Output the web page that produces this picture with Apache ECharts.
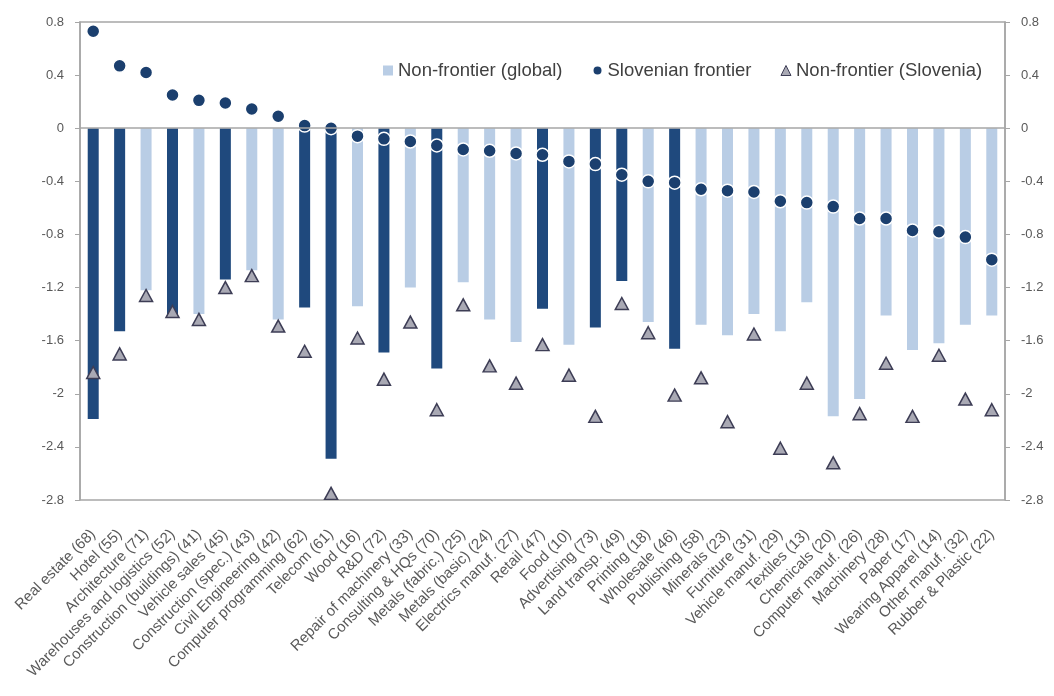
<!DOCTYPE html>
<html>
<head>
<meta charset="utf-8">
<title>Sector gaps: frontier vs non-frontier</title>
<script src="https://cdn.jsdelivr.net/npm/echarts@6/dist/echarts.min.js"></script>
<style>
  html, body { margin: 0; padding: 0; background: #ffffff; }
  #chart { width: 1054px; height: 696px; }
</style>
</head>
<body>
<div id="chart"></div>
<script>
// Sectors (number of firms in brackets)
const categories = [
  'Real estate (68)', 'Hotel (55)', 'Architecture (71)', 'Warehouses and logistics (52)',
  'Construction (buildings) (41)', 'Vehicle sales (45)', 'Construction (spec.) (43)',
  'Civil Engineering (42)', 'Computer programming (62)', 'Telecom (61)', 'Wood (16)',
  'R&D (72)', 'Repair of machinery (33)', 'Consulting & HQs (70)', 'Metals (fabric.) (25)',
  'Metals (basic) (24)', 'Electrics manuf. (27)', 'Retail (47)', 'Food (10)',
  'Advertising (73)', 'Land transp. (49)', 'Printing (18)', 'Wholesale (46)',
  'Publishing (58)', 'Minerals (23)', 'Furniture (31)', 'Vehicle manuf. (29)',
  'Textiles (13)', 'Chemicals (20)', 'Computer manuf. (26)', 'Machinery (28)',
  'Paper (17)', 'Wearing Apparel (14)', 'Other manuf. (32)', 'Rubber & Plastic (22)'
];

// Non-frontier (global) bars
const nonFrontierGlobal = [
  -2.19, -1.53, -1.22, -1.43, -1.40, -1.14, -1.07, -1.44, -1.35, -2.49,
  -1.34, -1.69, -1.20, -1.81, -1.16, -1.44, -1.61, -1.36, -1.63, -1.50,
  -1.15, -1.46, -1.66, -1.48, -1.56, -1.40, -1.53, -1.31, -2.17, -2.04,
  -1.41, -1.67, -1.62, -1.48, -1.41
];

// Sectors whose bar is drawn in the darker shade
const darkBar = [
  1, 1, 0, 1, 0, 1, 0, 0, 1, 1,
  0, 1, 0, 1, 0, 0, 0, 1, 0, 1,
  1, 0, 1, 0, 0, 0, 0, 0, 0, 0,
  0, 0, 0, 0, 0
];

// Slovenian frontier (dots)
const slovenianFrontier = [
  0.73, 0.47, 0.42, 0.25, 0.21, 0.19, 0.145, 0.09, 0.02, 0.0,
  -0.06, -0.08, -0.10, -0.13, -0.16, -0.17, -0.19, -0.20, -0.25, -0.27,
  -0.35, -0.40, -0.41, -0.46, -0.47, -0.48, -0.55, -0.56, -0.59, -0.68,
  -0.68, -0.77, -0.78, -0.82, -0.99
];

// Non-frontier (Slovenia) (triangles)
const nonFrontierSlovenia = [
  -1.84, -1.70, -1.26, -1.38, -1.44, -1.20, -1.11, -1.49, -1.68, -2.75,
  -1.58, -1.89, -1.46, -2.12, -1.33, -1.79, -1.92, -1.63, -1.86, -2.17,
  -1.32, -1.54, -2.01, -1.88, -2.21, -1.55, -2.41, -1.92, -2.52, -2.15,
  -1.77, -2.17, -1.71, -2.04, -2.12
];

// Value axis range and step
const yMin = -2.8;
const yMax = 0.8;
const yStep = 0.4;

const FONT = 'Liberation Sans';
const LIGHT = '#b9cde5';
const DARK = '#1f497d';
const DOT = '#1b3f6e';
const TRI_FILL = '#a9a9b4';
const TRI_EDGE = '#3d3d55';
const AXIS_GREY = '#a6a6a6';
const TEXT_GREY = '#595959';

function valueAxis(position) {
  return {
    type: 'value',
    position: position,
    min: yMin,
    max: yMax,
    interval: yStep,
    axisLine: { show: true, lineStyle: { color: AXIS_GREY, width: 1.5 } },
    axisTick: { show: true, inside: false, length: 5, lineStyle: { color: AXIS_GREY } },
    splitLine: { show: false },
    axisLabel: {
      margin: 16,
      color: TEXT_GREY,
      fontFamily: FONT,
      fontSize: 13
    }
  };
}

const chart = echarts.init(document.getElementById('chart'), null, { renderer: 'canvas' });

chart.setOption({
  animation: false,
  backgroundColor: '#ffffff',
  grid: {
    left: 80,
    right: 49,
    top: 22,
    bottom: 196,
    show: true,
    borderColor: AXIS_GREY,
    borderWidth: 1.5,
    containLabel: false
  },
  legend: {
    left: 378,
    top: 56,
    itemWidth: 10,
    itemHeight: 10,
    itemGap: 29,
    textStyle: { fontFamily: FONT, fontSize: 18.5, color: '#404040' },
    data: [
      { name: 'Non-frontier (global)', icon: 'rect', itemStyle: { color: LIGHT } },
      { name: 'Slovenian frontier', icon: 'circle', itemStyle: { color: DOT } },
      { name: 'Non-frontier (Slovenia)', icon: 'triangle',
        itemStyle: { color: TRI_FILL, borderColor: TRI_EDGE, borderWidth: 1 } }
    ]
  },
  xAxis: {
    type: 'category',
    data: categories,
    position: 'bottom',
    axisLine: { show: false, onZero: false },
    axisTick: { show: false },
    axisLabel: {
      interval: 0,
      rotate: 45,
      margin: 32,
      color: TEXT_GREY,
      fontFamily: FONT,
      fontSize: 15
    }
  },
  yAxis: [valueAxis('left'), valueAxis('right')],
  series: [
    {
      name: 'Non-frontier (global)',
      type: 'bar',
      data: nonFrontierGlobal,
      barWidth: 11,
      itemStyle: {
        color: function (p) { return darkBar[p.dataIndex] ? DARK : LIGHT; }
      },
      markLine: {
        silent: true,
        symbol: ['none', 'none'],
        label: { show: false },
        lineStyle: { color: AXIS_GREY, width: 1.5, type: 'solid' },
        data: [{ yAxis: 0 }]
      },
      z: 2
    },
    {
      name: 'Slovenian frontier',
      type: 'scatter',
      data: slovenianFrontier,
      symbol: 'circle',
      symbolSize: 13,
      itemStyle: { color: DOT, borderColor: '#ffffff', borderWidth: 1.5, opacity: 1 },
      z: 3
    },
    {
      name: 'Non-frontier (Slovenia)',
      type: 'scatter',
      data: nonFrontierSlovenia,
      symbol: 'triangle',
      symbolSize: [13, 12],
      itemStyle: { color: TRI_FILL, borderColor: TRI_EDGE, borderWidth: 1.5, opacity: 1 },
      z: 4
    }
  ]
});
</script>
</body>
</html>
